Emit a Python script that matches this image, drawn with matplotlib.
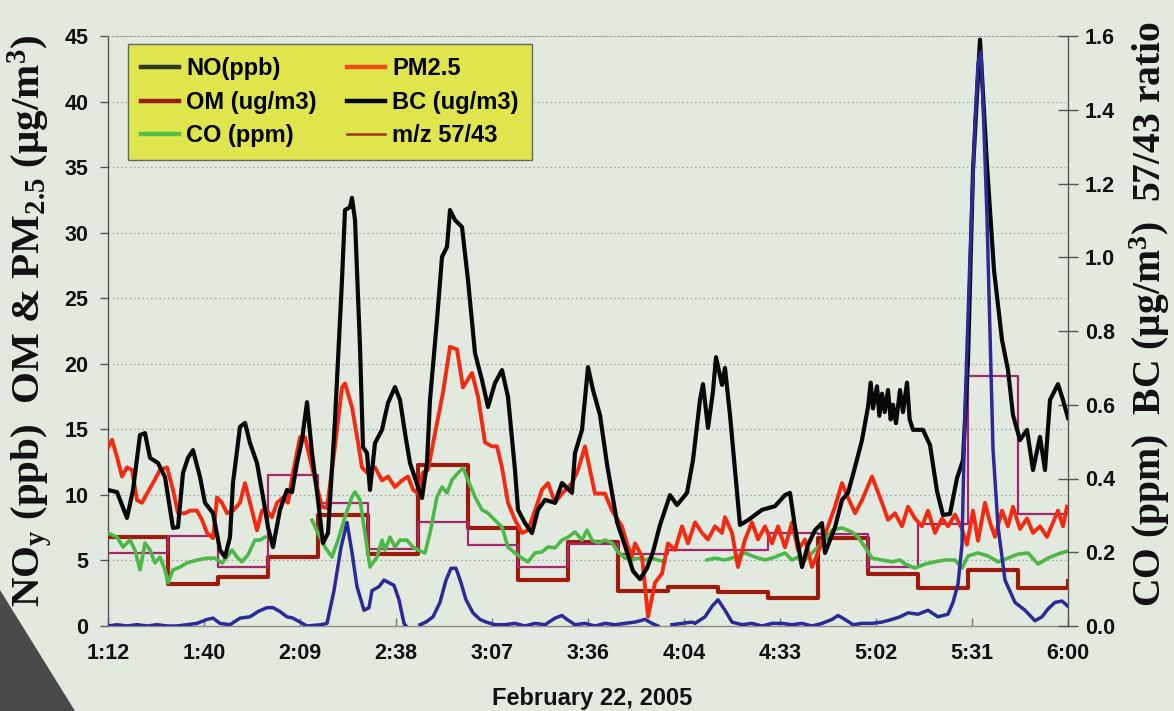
import numpy as np
import matplotlib
matplotlib.use("Agg")
import matplotlib.pyplot as plt
from matplotlib.lines import Line2D
from matplotlib.patches import Polygon

# ---------------- data (time in minutes after midnight) ----------------
x_tick_vals = [72.0, 100.8, 129.6, 158.4, 187.2, 216.0, 244.8, 273.6, 302.4, 331.2, 360.0]
x_tick_labels = ['1:12', '1:40', '2:09', '2:38', '3:07', '3:36', '4:04', '4:33', '5:02', '5:31', '6:00']
left_ticks = [0, 5, 10, 15, 20, 25, 30, 35, 40, 45]
right_ticks = [0.0, 0.2, 0.4, 0.6, 0.8, 1.0, 1.2, 1.4, 1.6]
right_tick_labels = ['0.0', '0.2', '0.4', '0.6', '0.8', '1.0', '1.2', '1.4', '1.6']

# 15-minute averaged series (step starts)
step_t = [72, 90, 105, 120, 135, 150, 165, 180, 195, 210, 225, 240, 255, 270, 285,
          300, 315, 330, 345, 360]
om_ug = [6.8, 3.2, 3.7, 5.3, 8.5, 5.5, 12.3, 7.5, 3.5, 6.4, 2.7, 3.0, 2.6, 2.1, 6.7,
         4.0, 2.9, 4.3, 2.9, 3.4]
mz_ratio = [0.198, 0.244, 0.160, 0.410, 0.333, 0.210, 0.282, 0.220, 0.160, 0.222, 0.195,
            0.206, 0.206, 0.252, 0.250, 0.160, 0.277, 0.678, 0.305, 0.305]

# black carbon (ug/m3, right axis)
bc = [(72.0, 0.369), (74.7, 0.363), (77.7, 0.293), (79.5, 0.369), (81.6, 0.518), (83.1, 0.523),
      (84.6, 0.456), (87.0, 0.442), (89.1, 0.404), (91.5, 0.266), (93.0, 0.268), (94.5, 0.415),
      (96.0, 0.456), (97.5, 0.477), (99.6, 0.404), (101.1, 0.334), (103.5, 0.306), (105.6, 0.206),
      (107.1, 0.187), (108.6, 0.241), (109.5, 0.388), (111.6, 0.540), (113.1, 0.551), (114.6, 0.496),
      (116.7, 0.442), (118.5, 0.350), (120.0, 0.268), (121.5, 0.214), (123.6, 0.315), (125.7, 0.369),
      (127.2, 0.363), (128.7, 0.442), (130.2, 0.504), (131.7, 0.607), (133.2, 0.469), (135.0, 0.342),
      (136.5, 0.225), (138.0, 0.252), (140.1, 0.559), (142.2, 0.938), (143.1, 1.128), (144.6, 1.136),
      (145.2, 1.161), (146.1, 1.101), (147.6, 0.757), (148.5, 0.485), (149.7, 0.469), (150.6, 0.369),
      (152.1, 0.496), (154.2, 0.532), (156.0, 0.605), (158.1, 0.648), (159.6, 0.613), (161.1, 0.523),
      (162.6, 0.442), (165.0, 0.377), (166.2, 0.347), (167.7, 0.442), (168.6, 0.613), (170.7, 0.830),
      (172.2, 1.001), (173.7, 1.028), (174.6, 1.128), (176.1, 1.101), (178.2, 1.082), (180.0, 0.938),
      (182.1, 0.740), (184.2, 0.667), (186.0, 0.594), (188.1, 0.659), (190.2, 0.694), (192.0, 0.621),
      (194.1, 0.423), (195.0, 0.315), (197.1, 0.279), (199.2, 0.252), (201.0, 0.315), (203.1, 0.342),
      (206.1, 0.334), (208.2, 0.388), (211.2, 0.361), (212.1, 0.469), (214.2, 0.532), (216.0, 0.702),
      (217.5, 0.640), (219.6, 0.572), (221.7, 0.439), (224.7, 0.282), (227.7, 0.201), (229.5, 0.149),
      (231.6, 0.127), (233.7, 0.157), (235.5, 0.201), (237.6, 0.274), (240.6, 0.355), (242.7, 0.328),
      (245.7, 0.361), (247.5, 0.450), (249.6, 0.613), (250.5, 0.656), (252.0, 0.537), (253.5, 0.637),
      (254.4, 0.729), (256.2, 0.654), (257.1, 0.700), (258.6, 0.572), (260.1, 0.423), (261.6, 0.274),
      (264.0, 0.287), (268.2, 0.315), (272.1, 0.325), (275.1, 0.355), (276.6, 0.361), (278.1, 0.268),
      (280.2, 0.160), (282.0, 0.220), (284.1, 0.260), (286.2, 0.279), (287.1, 0.198), (290.1, 0.268),
      (292.2, 0.342), (294.0, 0.361), (296.1, 0.431), (298.2, 0.504), (300.0, 0.594), (300.8, 0.660),
      (301.5, 0.590), (302.7, 0.650), (303.4, 0.570), (304.2, 0.630), (305.0, 0.580), (306.0, 0.640),
      (306.8, 0.560), (307.5, 0.600), (308.4, 0.550), (309.6, 0.640), (310.5, 0.580), (311.7, 0.660),
      (312.5, 0.560), (313.5, 0.532), (316.5, 0.532), (318.6, 0.491), (320.7, 0.366), (322.5, 0.301),
      (324.6, 0.304), (326.7, 0.401), (328.5, 0.450), (329.1, 0.559), (330.0, 0.721), (331.5, 1.237),
      (333.6, 1.590), (335.7, 1.250), (337.8, 0.965), (340.2, 0.776), (342.0, 0.694), (343.5, 0.572),
      (345.6, 0.504), (347.7, 0.532), (349.5, 0.423), (351.6, 0.513), (353.1, 0.423), (354.6, 0.613),
      (357.0, 0.656), (358.5, 0.613), (360.0, 0.564)]

# PM2.5 (ug/m3, left axis)
pm25 = [(72.0, 13.6), (73.2, 14.2), (74.7, 12.9), (76.2, 11.4), (77.7, 12.1), (79.2, 11.9), (80.7, 9.6),
        (82.2, 9.4), (83.7, 10.1), (85.5, 10.9), (87.6, 11.9), (89.7, 12.1), (91.5, 10.4), (93.0, 8.6),
        (95.1, 8.6), (96.6, 8.8), (98.7, 8.8), (100.2, 8.1), (101.7, 7.1), (103.5, 6.7), (104.7, 9.8),
        (106.2, 9.4), (107.7, 8.6), (109.5, 8.8), (111.6, 9.4), (113.1, 10.9), (114.6, 9.4), (116.7, 7.3),
        (118.2, 8.8), (119.7, 8.8), (121.2, 8.3), (122.7, 9.4), (124.5, 9.8), (126.0, 9.4), (127.5, 11.7),
        (129.6, 14.4), (131.1, 14.4), (133.2, 12.1), (136.2, 9.1), (137.7, 9.0), (140.1, 13.7), (142.2, 18.2),
        (143.1, 18.5), (145.2, 16.7), (147.0, 14.0), (148.2, 12.1), (149.7, 11.7), (152.1, 12.1), (154.2, 11.1),
        (156.0, 11.4), (158.1, 10.6), (160.2, 11.1), (162.0, 11.4), (163.5, 10.4), (165.0, 10.1), (166.5, 11.7),
        (168.0, 11.9), (170.1, 14.7), (172.5, 17.8), (174.6, 21.3), (176.7, 21.1), (178.5, 18.2), (181.2, 19.3),
        (183.0, 17.5), (185.1, 14.0), (187.2, 13.7), (188.7, 13.7), (190.2, 12.1), (192.0, 9.4), (194.1, 8.1),
        (196.2, 7.1), (198.0, 7.3), (200.1, 8.8), (202.2, 10.4), (204.0, 10.9), (206.1, 9.4), (208.2, 10.1),
        (211.2, 10.9), (213.0, 11.9), (215.1, 13.7), (216.6, 11.9), (218.1, 10.1), (221.1, 10.1), (223.2, 8.8),
        (226.2, 7.6), (227.7, 6.3), (229.2, 5.3), (230.1, 6.3), (232.2, 5.3), (234.0, 0.7), (236.1, 3.3),
        (238.2, 4.0), (240.0, 6.3), (242.1, 5.8), (244.2, 7.6), (246.0, 6.3), (248.1, 7.9), (250.2, 7.1),
        (252.0, 6.6), (254.1, 7.6), (256.2, 7.1), (257.1, 8.3), (259.2, 7.1), (261.0, 4.5), (263.1, 6.6),
        (265.2, 7.9), (267.0, 6.6), (269.1, 7.6), (271.2, 6.3), (273.0, 7.6), (275.1, 6.0), (277.2, 7.9),
        (279.0, 5.8), (281.1, 6.6), (283.2, 4.5), (285.0, 5.6), (288.0, 7.6), (290.1, 9.1), (292.2, 10.9),
        (294.0, 9.8), (296.1, 8.6), (298.2, 9.6), (301.2, 11.4), (304.2, 9.4), (306.0, 8.1), (308.1, 8.6),
        (310.2, 7.6), (312.0, 9.1), (314.1, 8.2), (316.2, 7.6), (318.0, 8.8), (320.1, 7.1), (322.2, 8.2),
        (324.0, 7.6), (326.1, 8.5), (328.2, 7.4), (329.7, 6.2), (331.5, 8.8), (333.0, 6.5), (335.1, 9.4),
        (336.6, 7.9), (338.1, 6.8), (340.2, 8.8), (342.0, 7.6), (343.5, 9.1), (345.6, 7.4), (347.7, 8.2),
        (349.5, 7.1), (351.6, 7.6), (353.7, 6.8), (355.5, 7.9), (357.0, 8.8), (358.5, 7.6), (359.7, 9.1)]

# CO (ppm, right axis); None marks missing data
co = [(72.0, 0.252), (74.7, 0.241), (76.5, 0.214), (78.6, 0.233), (80.1, 0.206), (81.6, 0.152),
      (83.1, 0.225), (84.6, 0.206), (86.1, 0.171), (87.6, 0.187), (89.1, 0.152), (90.0, 0.117),
      (91.5, 0.152), (93.6, 0.160), (95.7, 0.171), (98.7, 0.179), (101.7, 0.184), (104.1, 0.184),
      (106.2, 0.171), (107.7, 0.187), (109.2, 0.206), (110.7, 0.187), (112.2, 0.174), (114.0, 0.193),
      (116.1, 0.233), (117.6, 0.233), (119.1, 0.241), (126.0, None),
      (133.2, 0.287), (135.0, 0.252), (137.1, 0.214), (139.2, 0.187), (141.0, 0.233), (143.1, 0.296),
      (145.2, 0.350), (146.1, 0.363), (147.6, 0.342), (149.1, 0.252), (150.6, 0.160), (152.7, 0.187),
      (154.2, 0.233), (155.1, 0.206), (156.6, 0.241), (158.1, 0.214), (159.6, 0.233), (161.7, 0.233),
      (163.5, 0.214), (165.0, 0.206), (167.1, 0.198), (168.6, 0.252), (170.7, 0.350), (172.2, 0.377),
      (173.7, 0.361), (175.2, 0.396), (177.0, 0.415), (178.5, 0.428), (180.0, 0.396), (182.1, 0.350),
      (184.2, 0.315), (186.0, 0.306), (188.1, 0.287), (190.2, 0.268), (192.0, 0.214), (194.1, 0.198),
      (196.2, 0.184), (198.0, 0.174), (200.1, 0.198), (202.2, 0.201), (204.0, 0.214), (206.1, 0.212),
      (208.2, 0.233), (210.0, 0.241), (212.1, 0.255), (214.2, 0.233), (215.7, 0.260), (217.2, 0.233),
      (219.0, 0.225), (221.1, 0.233), (223.2, 0.225), (225.0, 0.201), (227.1, 0.184), (229.2, 0.179),
      (231.0, 0.184), (233.1, 0.179), (235.2, 0.184), (237.0, 0.179), (239.1, 0.174), (245.0, None),
      (251.7, 0.179), (254.1, 0.184), (257.1, 0.179), (260.1, 0.187), (263.1, 0.198), (266.1, 0.187),
      (269.1, 0.179), (272.1, 0.187), (275.1, 0.198), (277.2, 0.179), (279.0, 0.187), (281.1, 0.179),
      (283.2, 0.198), (285.0, 0.214), (287.1, 0.233), (289.2, 0.260), (292.2, 0.266), (295.2, 0.255),
      (297.0, 0.241), (299.1, 0.214), (301.2, 0.184), (304.2, 0.179), (307.2, 0.174), (309.6, 0.179),
      (311.1, 0.168), (314.1, 0.157), (317.1, 0.168), (320.1, 0.174), (323.1, 0.179), (326.1, 0.179),
      (328.2, 0.157), (330.0, 0.190), (333.0, 0.198), (336.0, 0.190), (339.0, 0.174), (342.0, 0.184),
      (345.0, 0.195), (348.0, 0.198), (351.0, 0.168), (354.0, 0.184), (357.0, 0.195), (359.7, 0.203)]

# NO (ppb, left axis); None marks missing data
no_ppb = [(72.0, 0.0), (74.7, 0.1), (77.7, 0.0), (80.7, 0.1), (83.7, 0.0), (86.7, 0.1), (89.7, 0.0),
          (92.7, 0.0), (95.7, 0.1), (98.7, 0.2), (101.7, 0.5), (103.5, 0.6), (105.6, 0.2), (108.6, 0.1),
          (111.6, 0.6), (114.6, 0.7), (117.0, 1.1), (119.7, 1.4), (121.5, 1.4), (123.6, 1.1), (125.7, 0.7),
          (127.5, 0.6), (129.6, 0.3), (131.7, 0.0), (135.9, 0.1), (137.7, 0.2), (139.8, 2.7), (141.9, 6.0),
          (143.7, 7.9), (145.2, 5.6), (146.7, 3.0), (148.8, 1.2), (150.3, 1.4), (151.2, 2.7), (153.3, 3.0),
          (154.8, 3.5), (156.3, 3.3), (157.8, 3.1), (159.3, 2.0), (160.8, 0.2), (161.4, 0.0), (163.5, None),
          (165.6, 0.1), (167.4, 0.3), (169.5, 0.7), (171.6, 1.8), (173.4, 3.5), (174.9, 4.4), (176.4, 4.4),
          (177.9, 3.3), (179.4, 2.0), (181.5, 1.0), (183.6, 0.5), (185.4, 0.3), (188.1, 0.1), (191.1, 0.1),
          (194.1, 0.2), (197.1, 0.0), (200.1, 0.2), (203.1, 0.1), (206.1, 0.6), (208.2, 0.8), (209.7, 0.5),
          (212.1, 0.1), (215.1, 0.2), (218.1, 0.0), (221.1, 0.2), (224.1, 0.1), (227.1, 0.2), (230.1, 0.3),
          (233.1, 0.5), (235.2, 0.2), (237.0, 0.0), (239.0, None), (241.2, 0.1), (244.2, 0.2), (247.2, 0.3),
          (248.1, 0.2), (251.1, 0.7), (253.2, 1.5), (255.0, 2.0), (257.1, 1.2), (259.2, 0.3), (262.2, 0.1),
          (265.2, 0.2), (268.2, 0.0), (271.2, 0.2), (274.2, 0.2), (277.2, 0.1), (280.2, 0.2), (283.2, 0.0),
          (286.2, 0.2), (289.2, 0.5), (291.0, 0.8), (293.1, 0.5), (295.5, 0.1), (298.2, 0.2), (301.2, 0.2),
          (304.2, 0.3), (307.2, 0.5), (309.6, 0.7), (312.0, 1.0), (315.0, 0.9), (318.0, 1.2), (321.0, 0.7),
          (324.0, 0.9), (325.5, 1.8), (327.0, 3.2), (328.2, 6.2), (329.1, 16.5), (330.6, 28.2), (332.1, 38.5),
          (333.0, 42.9), (333.9, 43.8), (334.5, 40.0), (335.7, 31.2), (336.6, 22.4), (337.5, 13.5),
          (339.0, 7.6), (341.1, 3.5), (344.1, 1.8), (347.1, 1.2), (350.1, 0.4), (352.2, 0.7), (354.0, 1.3),
          (356.1, 1.8), (358.2, 1.9), (360.0, 1.5)]


def split(pairs):
    t = np.array([p[0] for p in pairs], dtype=float)
    v = np.array([np.nan if p[1] is None else p[1] for p in pairs], dtype=float)
    return t, v


# ---------------- styling ----------------
BG = '#e2e9df'
C_NO = '#2b2a96'
C_PM = '#f22a12'
C_OM = '#9c1b0c'
C_BC = '#080808'
C_CO = '#4db848'
C_MZ = '#a3296f'

plt.rcParams['font.family'] = ['Liberation Sans', 'DejaVu Sans']
plt.rcParams['mathtext.fontset'] = 'custom'
plt.rcParams['mathtext.rm'] = 'Liberation Serif:bold'
plt.rcParams['mathtext.it'] = 'Liberation Serif:bold'
plt.rcParams['mathtext.bf'] = 'Liberation Serif:bold'

fig = plt.figure(figsize=(11.74, 7.11), dpi=100, facecolor=BG)
ax = fig.add_axes([108 / 1174, 85 / 711, 960 / 1174, 590 / 711])
ax.set_facecolor(BG)
ax2 = ax.twinx()

ax.set_xlim(72, 360)
ax.set_ylim(0, 45)
ax2.set_ylim(0, 1.6)

# grid
for yv in left_ticks[1:]:
    ax.axhline(yv, color='#a0a6a0', lw=0.9, ls=(0, (1.2, 2.2)), zorder=0)

# series (drawn on the top axes so the stacking order follows the original)
tl = ax.transData
t, v = split(list(zip(step_t, om_ug)))
ax2.step(t, v, where='post', color=C_OM, lw=3.0, transform=tl, zorder=2)
t, v = split(list(zip(step_t, mz_ratio)))
ax2.step(t, v, where='post', color=C_MZ, lw=1.6, zorder=3)
t, v = split(co)
ax2.plot(t, v, color=C_CO, lw=2.6, zorder=4)
t, v = split(pm25)
ax2.plot(t, v, color=C_PM, lw=2.8, transform=tl, zorder=5)
t, v = split(bc)
ax2.plot(t, v, color=C_BC, lw=3.0, zorder=6)
t, v = split(no_ppb)
ax2.plot(t, v, color=C_NO, lw=2.5, transform=tl, zorder=7)

# axes
ax.set_xticks(x_tick_vals)
ax.set_xticklabels(x_tick_labels)
ax.set_yticks(left_ticks)
ax.set_yticklabels([str(k) for k in left_ticks])
ax2.set_yticks(right_ticks)
ax2.set_yticklabels(right_tick_labels)

for a in (ax, ax2):
    for s in a.spines.values():
        s.set_visible(False)
ax.spines['left'].set_visible(True)
ax.spines['left'].set_color('#555555')
ax.spines['left'].set_linewidth(1.0)
ax.spines['bottom'].set_visible(True)
ax.spines['bottom'].set_color('#8a8a8a')
ax.spines['bottom'].set_linewidth(1.0)
ax.spines['top'].set_visible(True)
ax.spines['top'].set_color('#a0a6a0')
ax.spines['top'].set_linestyle((0, (1.2, 2.2)))
ax2.spines['right'].set_visible(True)
ax2.spines['right'].set_color('#555555')
ax2.spines['right'].set_linewidth(1.0)

ax.tick_params(axis='y', direction='out', length=6, width=1, color='#555555', pad=8,
               labelsize=15.5)
ax.tick_params(axis='x', direction='in', length=6, width=1, color='#777777', pad=12,
               labelsize=15.5)
ax2.tick_params(axis='y', direction='inout', length=14, width=1, color='#555555', pad=5,
                labelsize=15.5)
for lab in ax.get_xticklabels() + ax.get_yticklabels() + ax2.get_yticklabels():
    lab.set_fontweight('bold')
    lab.set_color('#111111')

ax.set_xlabel('February 22, 2005', fontsize=17, fontweight='bold', color='#111111')
ax.xaxis.set_label_coords(0.504, -0.104)

serif = dict(family=['Liberation Serif', 'DejaVu Serif'], fontweight='bold',
             color='#111111', rotation=90, ha='center', va='bottom')
fig.text(30 / 1174, 104 / 711,
         r'NO$_{\rm y}$ (ppb)  OM & PM$_{\rm 2.5}$ (μg/m$^{\rm 3}$)', fontsize=29.5, **serif)
fig.text(1150 / 1174, 104 / 711,
         r'CO (ppm)  BC (μg/m$^{\rm 3}$)  57/43 ratio', fontsize=28.5, **serif)

# legend
handles = [Line2D([], [], color='#2c3a2c', lw=3.2),
           Line2D([], [], color='#ef4a1c', lw=3.2),
           Line2D([], [], color='#9a1e0e', lw=3.2),
           Line2D([], [], color='#050505', lw=3.2),
           Line2D([], [], color='#55c040', lw=3.2),
           Line2D([], [], color='#a0401a', lw=1.9)]
labels = ['NO(ppb)', 'PM2.5', 'OM (ug/m3)', 'BC (ug/m3)', 'CO (ppm)', 'm/z 57/43']
order = [0, 2, 4, 1, 3, 5]
leg = ax2.legend([handles[i] for i in order], [labels[i] for i in order], ncol=2,
                 loc='upper left', bbox_to_anchor=(0.021, 0.986), borderaxespad=0,
                 frameon=True, fancybox=False, facecolor='#dfe54c', edgecolor='#666666',
                 framealpha=1, prop=dict(family='Liberation Sans', weight='bold', size=17),
                 handlelength=1.6, handletextpad=0.3, columnspacing=1.3,
                 labelspacing=0.45, borderpad=0.55)
leg.get_frame().set_linewidth(1.0)
leg.set_zorder(20)

# dark photo corner at bottom left
fig.add_artist(Polygon([[0, 0], [0, 121 / 711], [75 / 1174, 0]], closed=True,
                       transform=fig.transFigure, facecolor='#4a4a4a', edgecolor='none'))

fig.savefig('out.png', dpi=100, facecolor=BG)
